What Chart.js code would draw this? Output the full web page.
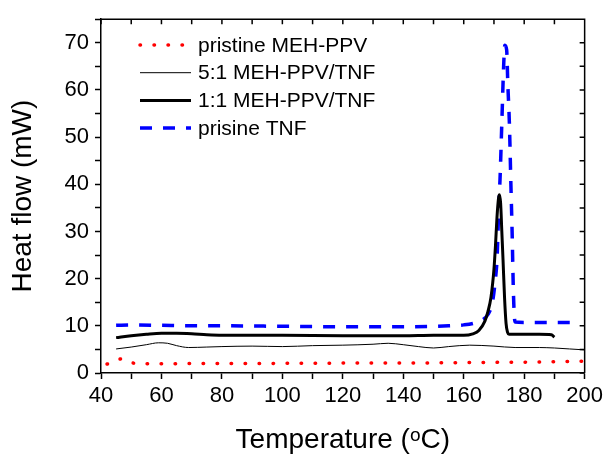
<!DOCTYPE html>
<html>
<head>
<meta charset="utf-8">
<script src="https://cdn.jsdelivr.net/npm/chart.js@4.4.1/dist/chart.umd.min.js"></script>
<style>
  body { margin: 0; background: #fff; }
  #wrap { width: 607px; height: 457px; position: relative; }
</style>
</head>
<body>
<div id="wrap"><canvas id="c"></canvas></div>
<script>
// DSC traces (temperature in C, heat flow in mW)
var pristineMehT = [42, 44, 46, 47, 48, 50, 52, 55, 60, 70, 80, 90, 100, 110, 120, 130, 140, 150, 160, 170, 180, 190, 200];
var pristineMehV = [1.9, 2.2, 2.9, 3.0, 2.6, 2.2, 2.0, 1.95, 1.95, 2.0, 2.0, 2.0, 2.05, 2.05, 2.1, 2.1, 2.1, 2.15, 2.2, 2.25, 2.3, 2.4, 2.5];

var ratio51T = [45, 50, 55, 59, 62, 65, 69, 75, 80, 90, 100, 110, 120, 130, 135, 140, 145, 150, 155, 162, 170, 177, 185, 190, 195, 200];
var ratio51V = [5.1, 5.5, 6.0, 6.4, 6.3, 5.8, 5.4, 5.5, 5.6, 5.7, 5.6, 5.8, 5.9, 6.1, 6.3, 6.0, 5.6, 5.3, 5.6, 5.9, 5.7, 5.4, 5.4, 5.3, 5.1, 4.9];

var ratio11T = [45, 50, 55, 60, 65, 70, 75, 80, 100, 120, 140, 150, 160, 163, 165, 167, 168, 169, 170, 170.5, 171, 171.5, 171.8, 172.2, 172.6, 173, 173.5, 174, 174.5, 175, 180, 185, 189, 190];
var ratio11V = [7.5, 7.9, 8.2, 8.4, 8.4, 8.3, 8.1, 8.0, 8.0, 7.9, 7.9, 8.0, 8.0, 8.3, 9.0, 11, 13, 16, 22, 27, 33, 37, 37.8, 36, 30, 24, 16, 10.5, 8.6, 8.2, 8.2, 8.2, 8.1, 7.6];

var tnfT = [45, 50, 60, 70, 80, 100, 120, 140, 155, 160, 163, 166, 168, 169.5, 170.5, 171, 171.7, 172, 172.6, 173.2, 173.6, 174.2, 174.6, 175.1, 175.6, 176, 176.4, 176.7, 177, 180, 190, 198];
var tnfV = [10.1, 10.2, 10.1, 10.0, 10.0, 9.9, 9.8, 9.8, 10.0, 10.2, 10.5, 11.2, 12.4, 15, 20, 24, 37, 41, 53, 65, 69.5, 68.5, 61, 53, 40, 30, 18, 12.5, 10.8, 10.7, 10.7, 10.7];

var seriesNames = ['pristine MEH-PPV', '5:1 MEH-PPV/TNF', '1:1 MEH-PPV/TNF', 'prisine TNF'];

var xMin = 40, xMax = 200, yMin = 0, yMax = 75;
var xLabelTicks = [40, 60, 80, 100, 120, 140, 160, 180, 200];
var yLabelTicks = [0, 10, 20, 30, 40, 50, 60, 70];

var FONT = 'Liberation Sans, Arial, DejaVu Sans, sans-serif';

function pts(t, v) {
  return t.map(function(x, i) { return { x: x, y: v[i] }; });
}

// frame on top/right with inward mirror ticks
var framePlugin = {
  id: 'frame',
  afterDraw: function(chart) {
    var ctx = chart.ctx, a = chart.chartArea;
    var xs = chart.scales.x, ys = chart.scales.y;
    ctx.save();
    ctx.strokeStyle = '#000';
    ctx.lineWidth = 1.5;
    ctx.beginPath();
    ctx.moveTo(a.left, a.top); ctx.lineTo(a.right, a.top); ctx.lineTo(a.right, a.bottom);
    xs.ticks.forEach(function(t) {
      var px = xs.getPixelForValue(t.value);
      ctx.moveTo(px, a.top); ctx.lineTo(px, a.top + 5);
    });
    ys.ticks.forEach(function(t) {
      var py = ys.getPixelForValue(t.value);
      ctx.moveTo(a.right, py); ctx.lineTo(a.right - 5, py);
    });
    ctx.stroke();
    ctx.restore();
  }
};

// legend inside the plot, line samples with each dataset's style
var legendPlugin = {
  id: 'innerLegend',
  afterDraw: function(chart) {
    var ctx = chart.ctx;
    ctx.save();
    ctx.font = '21px ' + FONT;
    ctx.textBaseline = 'middle';
    ctx.fillStyle = '#000';
    chart.data.datasets.forEach(function(ds, i) {
      var y = 45 + i * 27.7;
      ctx.strokeStyle = ds.borderColor;
      ctx.lineWidth = ds.borderWidth;
      ctx.lineCap = ds.borderCapStyle || 'butt';
      ctx.setLineDash(ds.borderDash || []);
      ctx.beginPath();
      ctx.moveTo(140, y); ctx.lineTo(191, y);
      ctx.stroke();
      ctx.setLineDash([]);
      ctx.fillText(ds.label, 198, y + 1);
    });
    ctx.restore();
  }
};

new Chart(document.getElementById('c'), {
  type: 'line',
  data: {
    datasets: [
      { label: seriesNames[0], data: pts(pristineMehT, pristineMehV), borderColor: '#ff0000', borderWidth: 3.5,
        borderDash: [0.5, 13.5], borderCapStyle: 'round' },
      { label: seriesNames[1], data: pts(ratio51T, ratio51V), borderColor: '#000', borderWidth: 1 },
      { label: seriesNames[2], data: pts(ratio11T, ratio11V), borderColor: '#000', borderWidth: 3 },
      { label: seriesNames[3], data: pts(tnfT, tnfV), borderColor: '#0000ff', borderWidth: 3.5,
        borderDash: [12, 11] }
    ]
  },
  options: {
    responsive: true,
    maintainAspectRatio: false,
    animation: false,
    parsing: true,
    layout: { padding: { left: 0, right: 19.3, top: 16, bottom: 0 } },
    elements: {
      point: { radius: 0 },
      line: { tension: 0, cubicInterpolationMode: 'monotone', fill: false }
    },
    plugins: { legend: { display: false }, tooltip: { enabled: false } },
    scales: {
      x: {
        type: 'linear', min: xMin, max: xMax,
        afterFit: function(s) { s.height = 84; },
        border: { color: '#000', width: 1.5 },
        grid: { drawOnChartArea: false, drawTicks: true, tickLength: 6, tickColor: '#000', tickWidth: 1.5 },
        ticks: {
          stepSize: 10, padding: 4, color: '#000', maxRotation: 0, autoSkip: false,
          font: { family: FONT, size: 22 },
          callback: function(v) { return xLabelTicks.indexOf(v) >= 0 ? String(v) : ''; }
        },
        title: { display: true, text: 'Temperature (ᵒC)', color: '#000',
          font: { family: FONT, size: 28 }, padding: { top: 0, bottom: 0 } }
      },
      y: {
        type: 'linear', min: yMin, max: yMax,
        afterFit: function(s) { s.width = 101; },
        border: { color: '#000', width: 1.5 },
        grid: { drawOnChartArea: false, drawTicks: true, tickLength: 6, tickColor: '#000', tickWidth: 1.5 },
        ticks: {
          stepSize: 5, padding: 6, color: '#000', autoSkip: false,
          font: { family: FONT, size: 22 },
          callback: function(v) { return yLabelTicks.indexOf(v) >= 0 ? String(v) : ''; }
        },
        title: { display: true, text: 'Heat flow (mW)', color: '#000',
          font: { family: FONT, size: 28 }, padding: { top: 6, bottom: 0 } }
      }
    }
  },
  plugins: [framePlugin, legendPlugin]
});
</script>
</body>
</html>
